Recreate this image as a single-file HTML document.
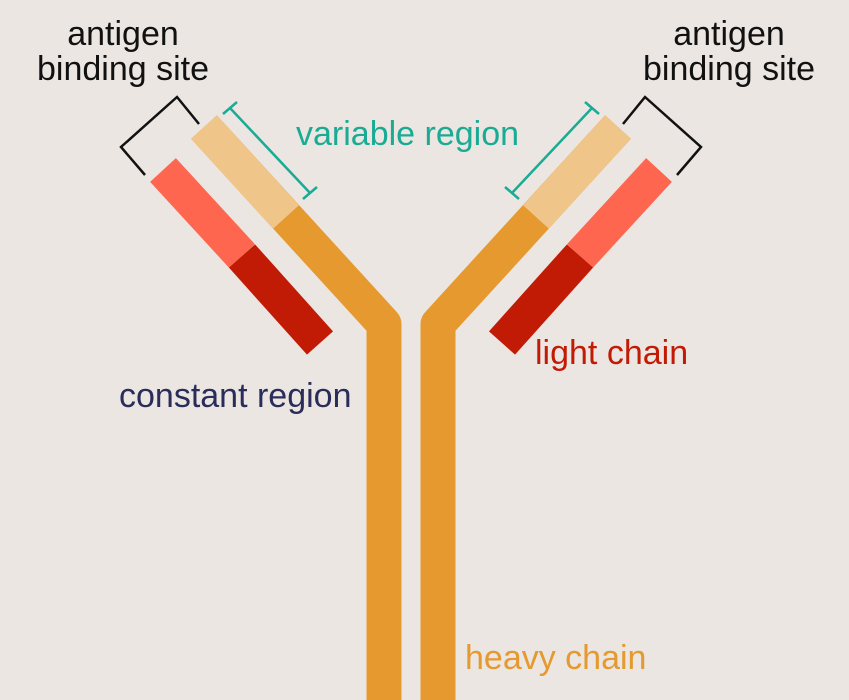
<!DOCTYPE html>
<html><head><meta charset="utf-8"><style>
html,body{margin:0;padding:0;background:#ebe6e2;}
svg{display:block;}
text{font-family:"Liberation Sans",sans-serif;font-size:34px;}
</style></head><body>
<svg width="849" height="700" viewBox="0 0 849 700">
<rect width="849" height="700" fill="#ebe6e2"/>
<g id="L">
<polyline points="204,127 384,324 384,705" fill="none" stroke="#e5992e" stroke-width="35" stroke-linejoin="round"/>
<line x1="204" y1="127" x2="286" y2="217" stroke="#f0c589" stroke-width="35"/>
<line x1="163" y1="170" x2="242" y2="256" stroke="#fe6650" stroke-width="35"/>
<line x1="242" y1="256" x2="320" y2="343" stroke="#c21b05" stroke-width="35"/>
<polyline points="145,175 121,147 177,97 199,124" fill="none" stroke="#111" stroke-width="2.5"/>
<g stroke="#1aab94" stroke-width="2.5">
<line x1="230" y1="108" x2="310" y2="193"/>
<line x1="223" y1="114" x2="237" y2="102"/>
<line x1="303" y1="199" x2="317" y2="187"/>
</g>
</g>
<use href="#L" transform="translate(822,0) scale(-1,1)"/>
<text x="123" y="45" text-anchor="middle" fill="#111">antigen</text>
<text x="123" y="80" text-anchor="middle" fill="#111">binding site</text>
<text x="729" y="45" text-anchor="middle" fill="#111">antigen</text>
<text x="729" y="80" text-anchor="middle" fill="#111">binding site</text>
<text x="296" y="145" fill="#1aab94">variable region</text>
<text x="119" y="407" fill="#2a2d5a">constant region</text>
<text x="535" y="364" fill="#c21b05">light chain</text>
<text x="465" y="669" fill="#e5992e">heavy chain</text>
</svg>
</body></html>
